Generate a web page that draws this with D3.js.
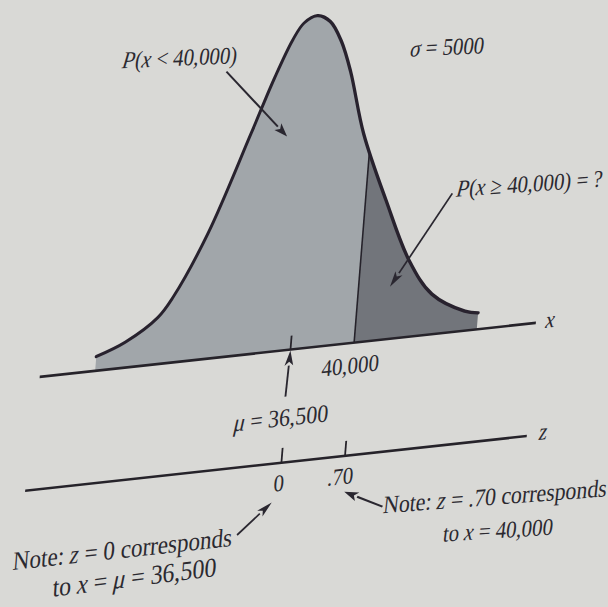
<!DOCTYPE html>
<html>
<head>
<meta charset="utf-8">
<script src="https://cdn.jsdelivr.net/npm/d3@7"></script>
<style>
  html, body { margin: 0; padding: 0; background: #d9d9d6; }
  svg { display: block; }
  text { font-family: "Liberation Serif", "Times New Roman", serif; fill: #2b2930; white-space: pre; }
</style>
</head>
<body>
<svg id="chart" width="608" height="607"></svg>
<script>
// Distribution parameters
const mu = 36500;
const sigma = 5000;
const cutoff = 40000;
const zCutoff = 0.70;

// Bell outline: x values and relative heights (peak = 1)
const curveX = [25750, 27300, 29000, 29750, 31400, 33350, 34400, 35250, 35800,
                36500, 37250, 37950, 38600, 39600, 41150, 42700, 44100, 46000, 46750];
const curveH = [0.043, 0.077, 0.141, 0.197, 0.378, 0.666, 0.825, 0.935, 0.982,
                1.000, 0.978, 0.915, 0.820, 0.628, 0.418, 0.229, 0.121, 0.059, 0.049];

// Axis extents
const xAxisExtent = [22700, 50000];
const zAxisExtent = [-2.82, 2.70];
const zTicks = [0, 0.70];
const zTickLabels = ["0", ".70"];

const svg = d3.select("#chart");

// Whole figure sits in a slightly tilted frame
const frame = svg.append("g")
  .attr("transform", "matrix(0.9942,-0.1083,-0.08,0.997,290.5,349.6)");

const pxPerSigma = 91.4;
const x = d3.scaleLinear().domain([mu, mu + sigma]).range([0, pxPerSigma]);
const z = d3.scaleLinear().domain([0, 1]).range([0, pxPerSigma]);
const y = d3.scaleLinear().domain([0, 1]).range([0, -335]);

const pts = curveX.map((d, i) => [d, curveH[i]]);
const smooth = d3.curveCatmullRom.alpha(0.5);
const area = d3.area().x(d => x(d[0])).y0(0).y1(d => y(d[1])).curve(smooth);
const line = d3.line().x(d => x(d[0])).y(d => y(d[1])).curve(smooth);

const defs = svg.append("defs");
defs.append("clipPath").attr("id", "below")
  .append("rect")
  .attr("x", x(xAxisExtent[0])).attr("y", -400)
  .attr("width", x(cutoff) - x(xAxisExtent[0])).attr("height", 400);
defs.append("clipPath").attr("id", "above")
  .append("rect")
  .attr("x", x(cutoff)).attr("y", -400)
  .attr("width", x(xAxisExtent[1]) - x(cutoff)).attr("height", 400);
defs.append("clipPath").attr("id", "under-curve")
  .append("path").attr("d", area(pts));

// Shaded regions
frame.append("path").attr("d", area(pts))
  .attr("clip-path", "url(#below)")
  .attr("fill", "#a1a6aa");
frame.append("path").attr("d", area(pts))
  .attr("clip-path", "url(#above)")
  .attr("fill", "#72757b");

// Divider at 40,000
frame.append("line")
  .attr("x1", x(cutoff)).attr("x2", x(cutoff))
  .attr("y1", 0).attr("y2", -400)
  .attr("clip-path", "url(#under-curve)")
  .attr("stroke", "#25222a").attr("stroke-width", 1.6);

// Bell outline
frame.append("path").attr("d", line(pts))
  .attr("fill", "none")
  .attr("stroke", "#28222e").attr("stroke-width", 3.2)
  .attr("stroke-linecap", "round");

// x axis
frame.append("line")
  .attr("x1", x(xAxisExtent[0])).attr("x2", x(xAxisExtent[1]))
  .attr("y1", 0).attr("y2", 0)
  .attr("stroke", "#26232a").attr("stroke-width", 2.6);
frame.append("line")
  .attr("x1", x(mu)).attr("x2", x(mu))
  .attr("y1", 0).attr("y2", -14)
  .attr("stroke", "#26232a").attr("stroke-width", 1.8);

// z axis
const zg = frame.append("g").attr("transform", "translate(0,113.5)");
zg.append("line")
  .attr("x1", z(zAxisExtent[0])).attr("x2", z(zAxisExtent[1]))
  .attr("y1", 0).attr("y2", 0)
  .attr("stroke", "#26232a").attr("stroke-width", 2.6);
zg.selectAll("line.tick").data(zTicks).join("line")
  .attr("class", "tick")
  .attr("x1", d => z(d)).attr("x2", d => z(d))
  .attr("y1", 0).attr("y2", -15)
  .attr("stroke", "#26232a").attr("stroke-width", 1.8);

// Arrow helper
function arrow(g, x1, y1, x2, y2) {
  const a = Math.atan2(y2 - y1, x2 - x1);
  const len = 15, half = 4.4;
  const bx = x2 - len * Math.cos(a), by = y2 - len * Math.sin(a);
  g.append("line")
    .attr("x1", x1).attr("y1", y1).attr("x2", bx).attr("y2", by)
    .attr("stroke", "#2a2730").attr("stroke-width", 1.9);
  const px = -Math.sin(a) * half, py = Math.cos(a) * half;
  g.append("path")
    .attr("d", `M${x2},${y2}L${bx + px},${by + py}L${bx + len * 0.25 * Math.cos(a)},${by + len * 0.25 * Math.sin(a)}L${bx - px},${by - py}Z`)
    .attr("fill", "#2a2730");
}

// Label helper: parts are [text, italic]; glyphs are set slightly tall and narrow
function label(g, parts, px, py, opts = {}) {
  const t = g.append("text")
    .attr("font-size", opts.size || 21)
    .attr("text-anchor", opts.anchor || "start")
    .attr("transform", `translate(${px},${py}) rotate(${opts.rot || 0}) scale(1,1.14)`);
  parts.forEach(([s, it]) => {
    t.append("tspan").text(s).attr("font-style", it ? "italic" : "normal");
  });
  return t;
}

// Annotations above the curve
label(frame, [["P", true], ["(", false], ["x", true], [" < 40,000)", false]], -194.4, -303.3, { rot: 3.7 });
arrow(frame, -87.6, -288.3, -20.8, -216);

label(frame, [["σ", true], [" = 5000", false]], 96.8, -283.3, { rot: 3.5 });

label(frame, [["P", true], ["(", false], ["x", true], [" ≥ 40,000) = ?", false]], 155.2, -136.5, { rot: 2.3 });
arrow(frame, 151.5, -140.3, 95.8, -52.7);

// Axis labels
label(frame, [["40,000", false]], x(cutoff) - 2, 30.8, { anchor: "middle" });
label(frame, [["x", true]], 256.4, 6.2, {});
label(zg, [["z", true]], 259, 5.3, {});

label(frame, [["μ", true], [" = 36,500", false]], x(mu) - 4, 76.6, { anchor: "middle", size: 22 });
arrow(frame, x(mu) - 1.3, 47, x(mu), 1);

zTicks.forEach((d, i) => {
  label(zg, [[zTickLabels[i], false]], z(d) - (i ? 3 : 1), 28.5, { anchor: "middle" });
});

// Notes below the z axis
label(frame, [["Note: ", false], ["z", true], [" = 0 corresponds", false]], -264.3, 192.3, { size: 23.2 });
label(frame, [["to ", false], ["x", true], [" = ", false], ["μ", true], [" = 36,500", false]], -221.7, 223.8, { size: 24, rot: -1 });
arrow(frame, -39.1, 181.7, -6.6, 152.6);

label(frame, [["Note: ", false], ["z", true], [" = .70 corresponds", false]], 106.6, 175.8, { size: 22, rot: 1.9 });
label(frame, [["to ", false], ["x", true], [" = 40,000", false]], 169.6, 211.1, { size: 21, rot: 2.6 });
arrow(frame, 106.1, 169.1, 66.1, 149.7);
</script>
</body>
</html>
